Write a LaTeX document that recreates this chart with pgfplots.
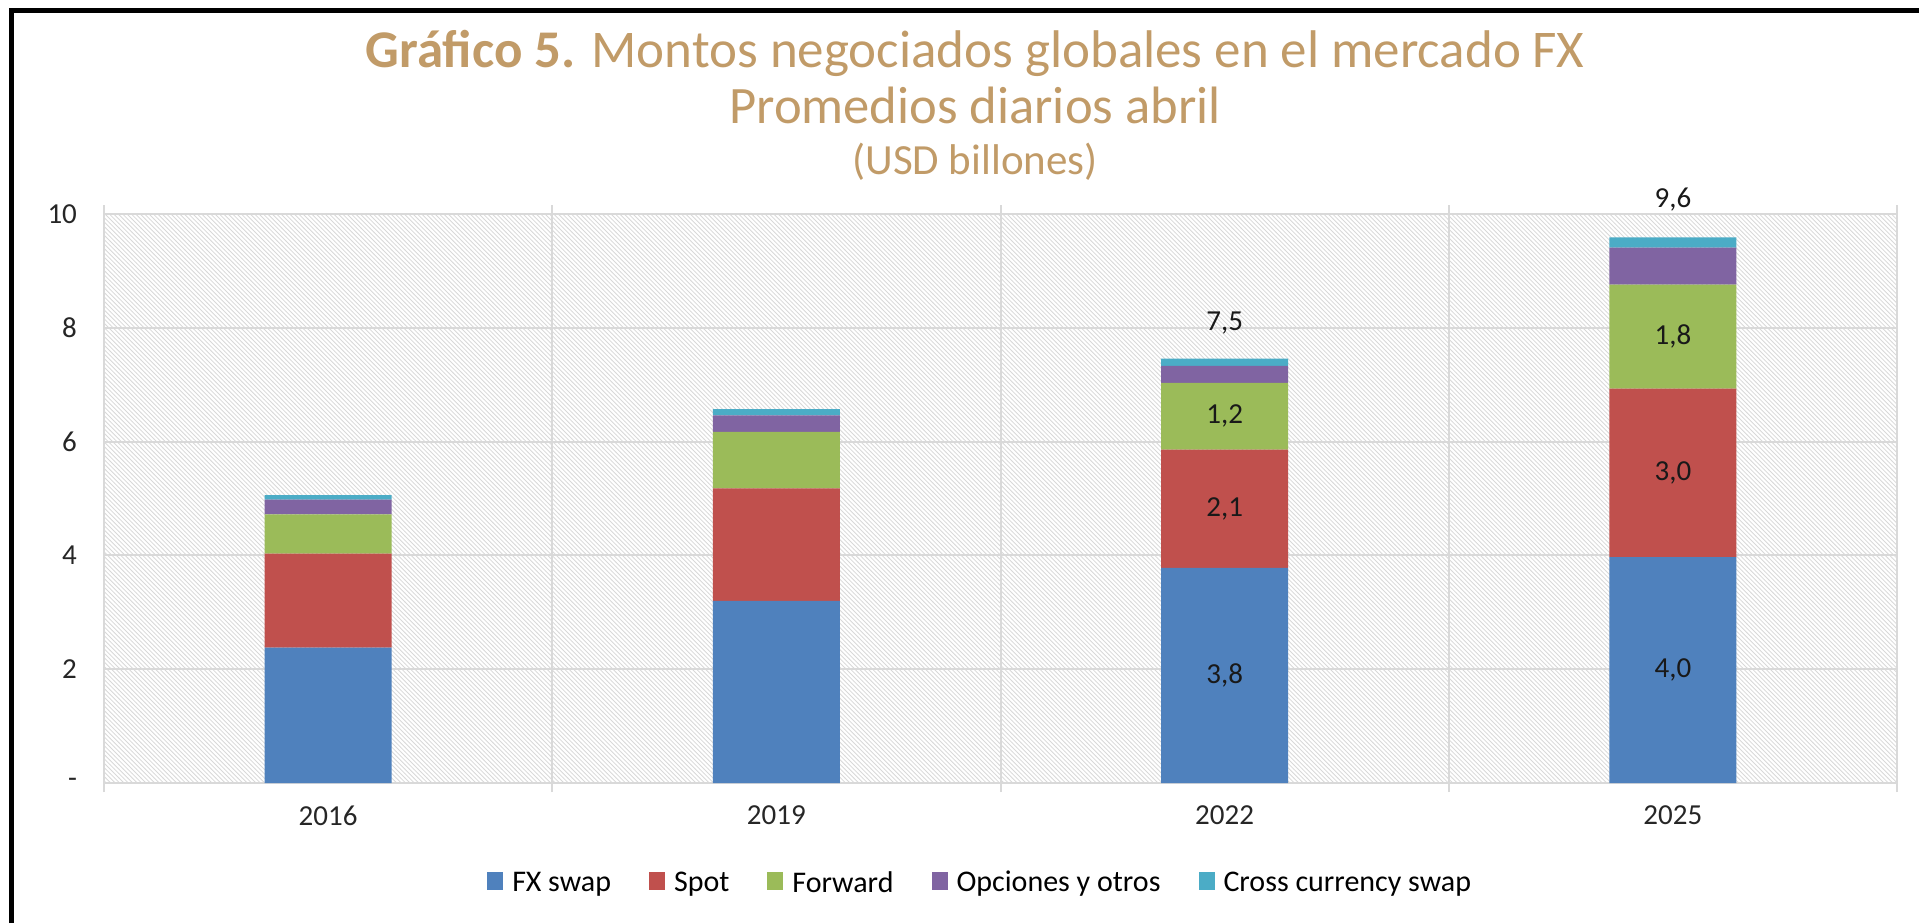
\documentclass[border=0pt]{standalone}
\usepackage{pgfplots}
\usepackage{pgfplotstable}
\pgfplotsset{compat=1.18}
\usepackage{fontspec}
\setmainfont{Carlito}
\usetikzlibrary{patterns}
\definecolor{cBlue}{HTML}{4F81BD}
\definecolor{cRed}{HTML}{C0504D}
\definecolor{cGreen}{HTML}{9BBB59}
\definecolor{cPurple}{HTML}{8064A2}
\definecolor{cCyan}{HTML}{4BACC6}
\definecolor{cTitle}{HTML}{C19B68}
\definecolor{cGrid}{HTML}{D9D9D9}
\definecolor{cHatch}{HTML}{D8D8D8}

\pgfdeclarepatternformonly{finehatch}{\pgfqpoint{-1pt}{-1pt}}{\pgfqpoint{3.2pt}{3.2pt}}{\pgfqpoint{2.2pt}{2.2pt}}%
{
  \pgfsetlinewidth{0.4pt}
  \pgfpathmoveto{\pgfqpoint{0pt}{2.2pt}}
  \pgfpathlineto{\pgfqpoint{2.3pt}{-0.1pt}}
  \pgfusepath{stroke}
}

\pgfplotstableread{
x fxswap spot forward opciones ccs
0 2.38 1.65 0.69 0.26 0.08
1 3.20 1.98 0.99 0.29 0.11
2 3.78 2.08 1.17 0.30 0.13
3 3.97 2.96 1.83 0.65 0.18
}\datatable

\begin{document}
\begin{tikzpicture}
\useasboundingbox (0,0) rectangle (959.5pt,461.5pt);
\draw[line width=2.5pt, black] (5.5pt,0) -- (5.5pt,456pt) -- (959.5pt,456pt);

\node[anchor=base, text=cTitle, font=\fontsize{26.5}{32}\selectfont] at (487.5pt,427.5pt) {\textbf{Gráfico 5.} Montos negociados globales en el mercado FX};
\node[anchor=base, text=cTitle, font=\fontsize{26.3}{32}\selectfont] at (487.5pt,399.5pt) {Promedios diarios abril};
\node[anchor=base, text=cTitle, font=\fontsize{21.5}{25}\selectfont] at (487.5pt,374pt) {(USD billones)};

\begin{axis}[
  at={(52pt,70pt)}, anchor=south west,
  scale only axis, width=896.5pt, height=284.5pt,
  ybar stacked, bar width=63.5pt,
  xmin=-0.5, xmax=3.5, ymin=0, ymax=10,
  clip=false,
  xtick={0,1,2,3}, xticklabels={2016,2019,2022,2025},
  minor xtick={-0.5,0.5,1.5,2.5,3.5},
  ytick={0,2,4,6,8,10}, yticklabels={-,2,4,6,8,10},
  ymajorgrids, xminorgrids,
  major grid style={draw=cGrid, line width=1pt},
  minor grid style={draw=cGrid, line width=1pt},
  major tick length=0pt, minor tick length=4.5pt, tick align=outside,
  minor tick style={draw=cGrid, line width=1pt},
  axis line style={draw=cGrid, line width=1pt},
  axis background/.style={pattern=finehatch, pattern color=cHatch},
  tick label style={font=\fontsize{14.5}{17}\selectfont, text=black!85},
  yticklabel style={xshift=-10pt},
  xticklabel style={yshift=-8pt},
  legend columns=5,
  legend style={at={(0.2136,-0.176)}, anchor=west, draw=none, fill=none,
    inner sep=0pt,
    font=\fontsize{15}{18}\selectfont,
    nodes={inner xsep=2pt},
    /tikz/every odd column/.append style={column sep=2.5pt},
    /tikz/every even column/.append style={column sep=17pt}},
  legend image code/.code={\fill[#1] (0pt,-3.5pt) rectangle (8pt,5.5pt);},
]
\addplot[fill=cBlue, draw=none] table[x=x, y=fxswap] {\datatable};
\addplot[fill=cRed, draw=none] table[x=x, y=spot] {\datatable};
\addplot[fill=cGreen, draw=none] table[x=x, y=forward] {\datatable};
\addplot[fill=cPurple, draw=none] table[x=x, y=opciones] {\datatable};
\addplot[fill=cCyan, draw=none] table[x=x, y=ccs] {\datatable};
\legend{FX swap, Spot, Forward, Opciones y otros, Cross currency swap}

\coordinate (a1) at (axis cs:2,1.89);
\coordinate (a2) at (axis cs:2,4.82);
\coordinate (a3) at (axis cs:2,6.445);
\coordinate (a4) at (axis cs:2,7.46);
\coordinate (b1) at (axis cs:3,1.985);
\coordinate (b2) at (axis cs:3,5.45);
\coordinate (b3) at (axis cs:3,7.845);
\coordinate (b4) at (axis cs:3,9.59);
\end{axis}
\begin{scope}[every node/.style={font=\fontsize{14.5}{17}\selectfont, text=black!90}]
\node at (a1) {3,8};
\node at (a2) {2,1};
\node at (a3) {1,2};
\node[anchor=base, yshift=14pt] at (a4) {7,5};
\node at (b1) {4,0};
\node at (b2) {3,0};
\node at (b3) {1,8};
\node[anchor=base, yshift=15pt] at (b4) {9,6};
\end{scope}
\end{tikzpicture}
\end{document}
